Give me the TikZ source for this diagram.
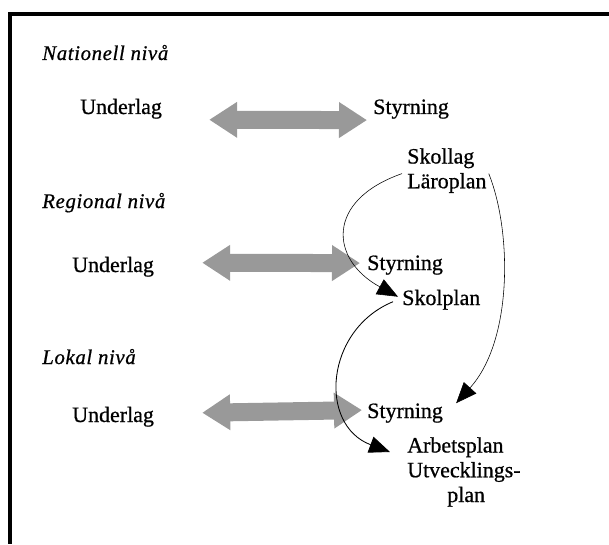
\documentclass[tikz,border=0pt]{standalone}
\usepackage{fontspec}
\setmainfont[FakeBold=0.7]{Liberation Serif}
\newfontfamily\levelfont[LetterSpace=3,FakeBold=0.7]{Liberation Serif}
\usetikzlibrary{arrows.meta}
\begin{document}
\begin{tikzpicture}[x=0.025cm,y=-0.025cm]
  \tikzstyle{every node}=[inner sep=0pt,anchor=base west,font=\fontsize{15.6}{17.6}\selectfont]
  \tikzstyle{lvltext}=[font=\levelfont\itshape\fontsize{14.8}{16}\selectfont]
  \tikzstyle{wide}=[draw=black!40,line width=0.45cm,{Triangle[length=0.7cm,width=0.85cm]}-{Triangle[length=0.7cm,width=0.85cm]}]
  \tikzstyle{flow}=[-{Triangle[length=0.52cm,width=0.42cm]}]
  \useasboundingbox (0,0) rectangle (609,544);
  \draw[line width=0.1cm] (609,14) -- (10,14) -- (10,544);
  \node[lvltext] (nat) at (42,60) {Nationell nivå};
  \node (u1) at (80,114) {Underlag};
  \node (s1) at (373,114) {Styrning};
  \node[align=left,anchor=north west] (law) at (407,148) {Skollag\\Läroplan};
  \node[lvltext] (reg) at (42,208) {Regional nivå};
  \node (u2) at (72,272) {Underlag};
  \node (s2) at (367,270) {Styrning};
  \node (sp) at (402,305) {Skolplan};
  \node[lvltext] (lok) at (42,364) {Lokal nivå};
  \node (u3) at (72,422) {Underlag};
  \node (s3) at (367,418) {Styrning};
  \node[align=left,anchor=north west] (ap) at (407,437) {Arbetsplan\\Utvecklings-\\\hspace*{1cm}plan};
  \draw[wide] ([shift={(47,11)}]u1.east) -- ([shift={(-6,11)}]s1.west);
  \draw[wide] ([shift={(48,-4)}]u2.east) -- ([shift={(-7,-2)}]s2.west);
  \draw[wide] ([shift={(48,-4)}]u3.east) -- ([shift={(-5,-3)}]s3.west);
  \draw[thin,flow] ([shift={(-5,3)}]law.west) .. controls +(-77,27) and +(-68,-37) .. ([shift={(-4,-3)}]sp.west);
  \draw[thin,flow] ([shift={(2,3)}]law.east) .. controls +(23,57) and +(57,-63) .. ([shift={(13,0)}]s3.north east);
  \draw[semithick,flow] ([shift={(-9,2)}]sp.west) .. controls +(-68,28) and +(-72,-27) .. ([shift={(-17,15)}]ap.north west);
\end{tikzpicture}
\end{document}
